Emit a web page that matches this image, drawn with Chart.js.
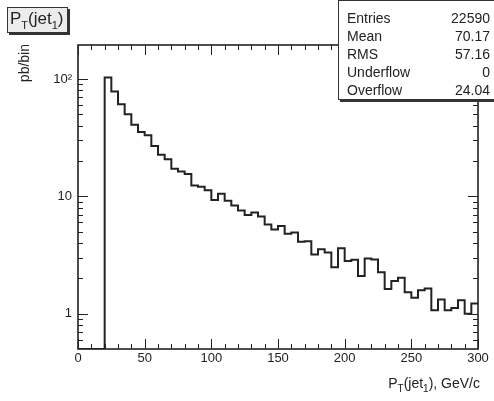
<!DOCTYPE html>
<html>
<head>
<meta charset="utf-8">
<script src="https://cdn.jsdelivr.net/npm/chart.js@4.4.1/dist/chart.umd.min.js"></script>
<style>
body { margin: 0; background: #fff; font-family: "Liberation Sans", Arial, sans-serif; color: #222; }
#wrap { position: relative; width: 494px; height: 401px; overflow: hidden; }
#chartInfo { position: absolute; left: 0; top: 0; }
sub { font-size: 10px; vertical-align: -4px; line-height: 0; }
#title { position: absolute; left: 7px; top: 7px; width: 61px; height: 26px; box-sizing: border-box;
  background: #ececec; border: 1px solid #333; box-shadow: 2px 2px 0 #333;
  font-size: 17px; line-height: 22px; padding-left: 2px; white-space: nowrap; }
#title sub { font-size: 11px; vertical-align: -5px; }
#stats { position: absolute; left: 338px; top: 0; width: 160px; height: 100px; box-sizing: border-box;
  background: #fff; border: 1px solid #333; box-shadow: 2px 2px 0 #333; padding: 8px 7px 0 8px; font-size: 14px; }
#stats div { display: flex; justify-content: space-between; height: 18px; line-height: 18px; }
#ytitle { position: absolute; left: 16px; top: 44px; font-size: 14px; writing-mode: vertical-rl; transform: rotate(180deg); }
#xtitle { position: absolute; right: 14px; top: 375px; font-size: 14px; white-space: nowrap; }
</style>
</head>
<body>
<div id="wrap">
  <canvas id="chartInfo" width="494" height="401"></canvas>
  <div id="title">P<sub>T</sub>(jet<sub>1</sub>)</div>
  <div id="stats"></div>
  <div id="ytitle">pb/bin</div>
  <div id="xtitle">P<sub>T</sub>(jet<sub>1</sub>), GeV/c</div>
</div>
<script>
//histogram content, 5 GeV bins from 0 to 300 (pb/bin)
var binWidth = 5
var binValues = [0, 0, 0, 0,
    103, 78.3, 61.1, 50.2, 40.7, 35.3, 33.1, 26.8, 22.6, 20.7,
    17.2, 16.3, 15.5, 12.4, 12.1, 11.3, 9.32, 10.5, 9.19, 8.37,
    7.59, 6.92, 7.27, 6.72, 5.75, 5.21, 5.60, 4.79, 4.91, 4.10,
    4.15, 3.19, 3.55, 3.32, 2.49, 3.62, 2.81, 2.88, 2.10, 2.95,
    2.90, 2.26, 1.62, 1.90, 2.02, 1.52, 1.37, 1.58, 1.64, 1.07,
    1.32, 1.07, 1.12, 1.30, 1.00, 1.22]
//stats box
var statNames = ['Entries', 'Mean', 'RMS', 'Underflow', 'Overflow']
var statValues = ['22590', '70.17', '57.16', '0', '24.04']
//axes
var xMajorTicks = [0, 50, 100, 150, 200, 250, 300]
var xMinorStep = 10
var yMajorTicks = [1, 10, 100]
var yMajorLabels = ['1', '10', '10²']
var yMinorTicks = [0.6, 0.7, 0.8, 0.9, 2, 3, 4, 5, 6, 7, 8, 9, 20, 30, 40, 50, 60, 70, 80, 90]
var yMin = 0.5, yMax = 195

var statsBox = document.getElementById('stats')
for (var i = 0; i < statNames.length; i++) {
    var row = document.createElement('div')
    row.innerHTML = '<span>' + statNames[i] + '</span><span>' + statValues[i] + '</span>'
    statsBox.appendChild(row)
}

//points at the low edge of each bin, plus the last upper edge
var points = []
for (var i = 0; i < binValues.length; i++) {
    points.push({ x: i * binWidth, y: binValues[i] > 0 ? binValues[i] : yMin })
}
points.push({ x: binValues.length * binWidth, y: binValues[binValues.length - 1] })

//frame with inward ticks on all four sides
var frameTicks = {
    id: 'frameTicks',
    afterDatasetsDraw: function (chart) {
        var ctx = chart.ctx, a = chart.chartArea
        var xs = chart.scales.x, ys = chart.scales.y
        ctx.save()
        ctx.strokeStyle = '#222'
        ctx.lineWidth = 1
        ctx.beginPath()
        function xTick(v, len) {
            var p = Math.round(xs.getPixelForValue(v)) + 0.5
            ctx.moveTo(p, a.bottom); ctx.lineTo(p, a.bottom - len)
            ctx.moveTo(p, a.top); ctx.lineTo(p, a.top + len)
        }
        function yTick(v, len) {
            var p = Math.round(ys.getPixelForValue(v)) + 0.5
            ctx.moveTo(a.left, p); ctx.lineTo(a.left + len, p)
            ctx.moveTo(a.right, p); ctx.lineTo(a.right - len, p)
        }
        for (var v = xs.min; v <= xs.max; v += xMinorStep) xTick(v, 5)
        xMajorTicks.forEach(function (v) { xTick(v, 10) })
        yMinorTicks.forEach(function (v) { yTick(v, 5) })
        yMajorTicks.forEach(function (v) { yTick(v, 10) })
        ctx.stroke()
        ctx.lineWidth = 1.6
        ctx.strokeRect(a.left, a.top, a.right - a.left, a.bottom - a.top)
        ctx.restore()
    }
}

var canvas = document.getElementById('chartInfo')
var ctx = canvas.getContext('2d')
var myChart = new Chart(ctx, {
    type: 'line',
    data: {
        datasets: [{
            data: points,
            stepped: true,
            borderColor: '#222',
            borderWidth: 2,
            pointRadius: 0,
            fill: false
        }]
    },
    options: {
        responsive: false,
        animation: false,
        layout: { padding: { top: 45, right: 16, left: 0, bottom: 0 } },
        plugins: { legend: { display: false }, tooltip: { enabled: false } },
        scales: {
            x: {
                type: 'linear', min: 0, max: 300,
                grid: { display: false, drawTicks: false },
                border: { display: false },
                ticks: { stepSize: 50, padding: 2, color: '#222', maxRotation: 0,
                    font: { family: 'Liberation Sans', size: 13 } },
                afterFit: function (scale) { scale.height = 52 }
            },
            y: {
                type: 'logarithmic', min: yMin, max: yMax,
                grid: { display: false, drawTicks: false },
                border: { display: false },
                afterBuildTicks: function (scale) {
                    scale.ticks = yMajorTicks.map(function (v) { return { value: v } })
                },
                ticks: { padding: 6, color: '#222',
                    font: { family: 'Liberation Sans', size: 13 },
                    callback: function (value) {
                        var k = yMajorTicks.indexOf(value)
                        return k >= 0 ? yMajorLabels[k] : ''
                    } },
                afterFit: function (scale) { scale.width = 78 }
            }
        }
    },
    plugins: [frameTicks]
})
</script>
</body>
</html>
